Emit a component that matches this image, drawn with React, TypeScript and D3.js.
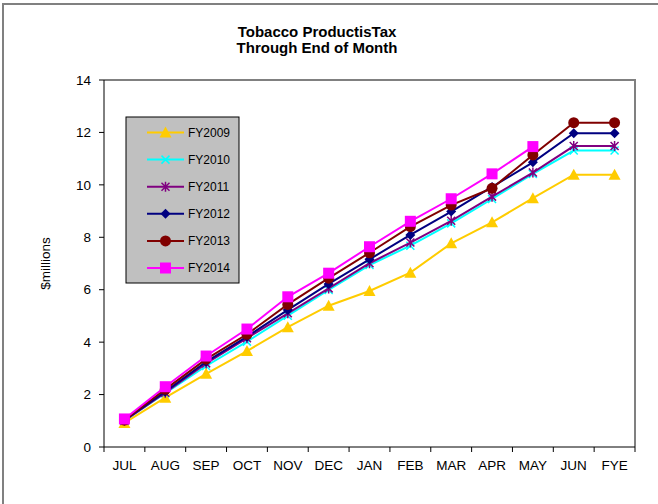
import React from "react";
import * as d3 from "d3";

const months = ["JUL", "AUG", "SEP", "OCT", "NOV", "DEC", "JAN", "FEB", "MAR", "APR", "MAY", "JUN", "FYE"];
const yTicks = [0, 2, 4, 6, 8, 10, 12, 14];
const seriesNames = ["FY2009", "FY2010", "FY2011", "FY2012", "FY2013", "FY2014"];
const fy2009 = [0.92, 1.88, 2.79, 3.66, 4.57, 5.39, 5.95, 6.65, 7.77, 8.57, 9.49, 10.39, 10.39];
const fy2010 = [1.0, 2.05, 3.09, 4.02, 5.01, 5.99, 6.94, 7.68, 8.53, 9.46, 10.42, 11.31, 11.31];
const fy2011 = [1.0, 2.07, 3.19, 4.15, 5.1, 6.05, 7.01, 7.8, 8.63, 9.55, 10.47, 11.48, 11.48];
const fy2012 = [1.02, 2.11, 3.25, 4.21, 5.23, 6.22, 7.16, 8.09, 8.98, 9.92, 10.86, 11.97, 11.97];
const fy2013 = [1.03, 2.2, 3.35, 4.3, 5.44, 6.44, 7.41, 8.41, 9.23, 9.87, 11.14, 12.37, 12.37];
const fy2014: (number | null)[] = [1.07, 2.3, 3.47, 4.5, 5.73, 6.63, 7.64, 8.61, 9.47, 10.42, 11.46, null, null];
const seriesValues: (number | null)[][] = [fy2009, fy2010, fy2011, fy2012, fy2013, fy2014];
const colors = ["#FFCC00", "#00FFFF", "#800080", "#000080", "#800000", "#FF00FF"];
const markers = ["triangle", "x", "star", "diamond", "circle", "square"];

const FONT = "'Liberation Sans', Arial, sans-serif";

function Marker({ kind, cx, cy, color }: { kind: string; cx: number; cy: number; color: string }) {
  switch (kind) {
    case "triangle":
      return <path d={`M${cx},${cy - 6}L${cx + 6},${cy + 5}L${cx - 6},${cy + 5}Z`} fill={color} />;
    case "x":
      return (
        <path d={`M${cx - 4},${cy - 4}L${cx + 4},${cy + 4}M${cx - 4},${cy + 4}L${cx + 4},${cy - 4}`} stroke={color} strokeWidth={1.5} fill="none" />
      );
    case "star":
      return (
        <path
          d={`M${cx - 4},${cy - 4}L${cx + 4},${cy + 4}M${cx - 4},${cy + 4}L${cx + 4},${cy - 4}M${cx},${cy - 5}L${cx},${cy + 5}`}
          stroke={color}
          strokeWidth={1.5}
          fill="none"
        />
      );
    case "diamond":
      return <path d={`M${cx},${cy - 5}L${cx + 5},${cy}L${cx},${cy + 5}L${cx - 5},${cy}Z`} fill={color} />;
    case "circle":
      return <circle cx={cx} cy={cy} r={5.5} fill={color} />;
    case "square":
      return <rect x={cx - 5.5} y={cy - 5.5} width={11} height={11} fill={color} />;
  }
  return null;
}

export default function App() {
  const W = 658;
  const H = 504;
  const left = 104;
  const right = 635;
  const top = 80;
  const bottom = 447;
  const x = d3.scaleBand<string>().domain(months).range([left, right]);
  const y = d3.scaleLinear().domain([0, 14]).range([bottom, top]);
  const cx = (m: string) => (x(m) as number) + x.bandwidth() / 2;

  const line = d3
    .line<{ m: string; v: number | null }>()
    .defined((d) => d.v !== null)
    .x((d) => cx(d.m))
    .y((d) => y(d.v as number));

  const legendX = 126;
  const legendY = 117;
  const legendW = 113;
  const legendH = 166;

  return (
    <svg width={W} height={H} style={{ position: "absolute", left: 0, top: 0, fontFamily: FONT }}>
      <rect x={0} y={0} width={W} height={H} fill="#fff" />
      {/* outer border */}
      <path d={`M3,${H + 5}V4H${W + 5}`} stroke="#808080" strokeWidth={2} fill="none" />
      {/* plot area border */}
      <path d={`M${left},${top}H${right}V${bottom}`} stroke="#808080" strokeWidth={2} fill="none" />

      {/* title */}
      <text x={317} y={37} textAnchor="middle" fontSize={15} fontWeight="bold">
        Tobacco ProductisTax
      </text>
      <text x={317} y={53} textAnchor="middle" fontSize={15} fontWeight="bold">
        Through End of Month
      </text>

      {/* y axis */}
      <line x1={left} x2={left} y1={top} y2={bottom} stroke="#000" strokeWidth={1} />
      {yTicks.map((t) => (
        <g key={t}>
          <line x1={left - 5} x2={left} y1={y(t)} y2={y(t)} stroke="#000" />
          <text x={91} y={y(t)} dy="0.35em" textAnchor="end" fontSize={13.5}>
            {t}
          </text>
        </g>
      ))}
      <text transform={`translate(50,${(top + bottom) / 2}) rotate(-90)`} textAnchor="middle" fontSize={13.5}>
        $millions
      </text>

      {/* x axis */}
      <line x1={left} x2={right} y1={bottom} y2={bottom} stroke="#000" strokeWidth={1} />
      {months.map((m, i) => (
        <g key={m}>
          <line x1={x(m) as number} x2={x(m) as number} y1={bottom} y2={bottom + 5} stroke="#000" />
          {i === months.length - 1 && (
            <line x1={right} x2={right} y1={bottom} y2={bottom + 5} stroke="#000" />
          )}
          <text x={cx(m)} y={470} textAnchor="middle" fontSize={13.5}>
            {m}
          </text>
        </g>
      ))}

      {/* series */}
      {seriesValues.map((vals, si) => {
        const pts = months.map((m, i) => ({ m, v: vals[i] }));
        return (
          <g key={seriesNames[si]}>
            <path d={line(pts) || ""} stroke={colors[si]} strokeWidth={2} fill="none" />
            {pts
              .filter((p) => p.v !== null)
              .map((p) => (
                <Marker key={p.m} kind={markers[si]} cx={cx(p.m)} cy={y(p.v as number)} color={colors[si]} />
              ))}
          </g>
        );
      })}

      {/* legend */}
      <rect x={legendX} y={legendY} width={legendW} height={legendH} fill="#C0C0C0" stroke="#000" strokeWidth={1} />
      {seriesNames.map((name, i) => {
        const ly = 132.5 + i * 27.1;
        return (
          <g key={name}>
            <line x1={147} x2={184} y1={ly} y2={ly} stroke={colors[i]} strokeWidth={2} />
            <Marker kind={markers[i]} cx={165.5} cy={ly} color={colors[i]} />
            <text x={188} y={ly} dy="0.35em" fontSize={12}>
              {name}
            </text>
          </g>
        );
      })}
    </svg>
  );
}
